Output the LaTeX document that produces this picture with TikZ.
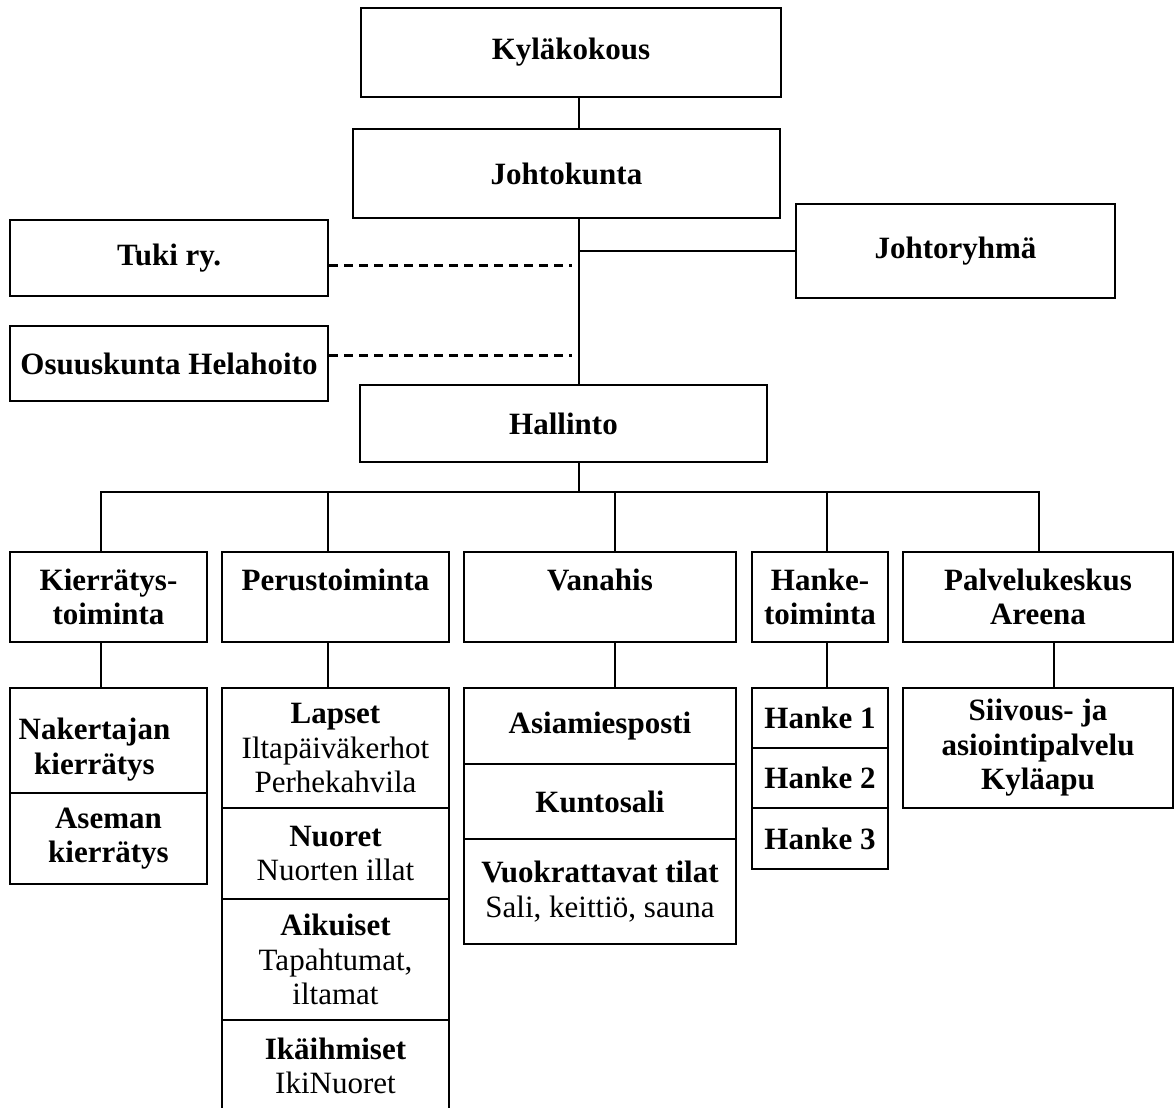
\documentclass[tikz,border=0pt]{standalone}
\usepackage{fontspec}
\setmainfont{Liberation Serif}
\newcommand\orgbox[7]{%
  \node[#6, minimum width={(#4-#2)*1pt}, minimum height={(#5-#3)*1pt}]
    (#1) at ({(#2+#4)/2},{(#3+#5)/2}) {#7};}
\begin{document}
\begin{tikzpicture}[x=1pt,y=-1pt,
  box/.style={draw, line width=2pt, inner sep=0pt, align=center,
    font=\fontsize{31}{34.5}\selectfont},
  boldbox/.style={box, font=\fontsize{31}{34.5}\selectfont\bfseries},
  conn/.style={line width=2pt, line cap=rect},
  dashl/.style={line width=3pt, dash pattern=on 9pt off 6pt}]
\fill[white] (0,0) rectangle (1175,1108);
\useasboundingbox (0,0) rectangle (1175,1108);
% top levels
\orgbox{kyl}{361}{8}{781}{97}{boldbox}{Kyläkokous}
\orgbox{joh}{353}{129}{780}{218}{boldbox}{Johtokunta}
\orgbox{jr}{796}{204}{1115}{298}{boldbox}{Johtoryhmä}
\orgbox{tuki}{10}{220}{328}{296}{boldbox}{Tuki ry.}
\orgbox{osu}{10}{326}{328}{401}{boldbox}{Osuuskunta Helahoito}
\orgbox{hal}{360}{385}{767}{462}{boldbox}{Hallinto}
% level 2
\orgbox{kier}{10}{552}{207}{642}{boldbox}{Kierrätys-\\toiminta}
\orgbox{per}{222}{552}{449}{642}{boldbox}{Perustoiminta\\\mbox{}}
\orgbox{van}{464}{552}{736}{642}{boldbox}{Vanahis\\\mbox{}}
\orgbox{han}{752}{552}{888}{642}{boldbox}{Hanke-\\toiminta}
\orgbox{pal}{903}{552}{1173}{642}{boldbox}{Palvelukeskus\\Areena}
% level 3
\orgbox{nak}{10}{688}{207}{793}{box, label={[align=center, font=\fontsize{31}{34.5}\selectfont\bfseries, xshift=-14pt, yshift=-9pt]center:Nakertajan\\kierrätys}}{}
\orgbox{ase}{10}{793}{207}{884}{boldbox}{Aseman\\kierrätys}
\orgbox{lap}{222}{688}{449}{808}{box}{\textbf{Lapset}\\Iltapäiväkerhot\\Perhekahvila}
\orgbox{nuo}{222}{808}{449}{899}{box}{\textbf{Nuoret}\\Nuorten illat}
\orgbox{aik}{222}{899}{449}{1020}{box}{\textbf{Aikuiset}\\Tapahtumat,\\iltamat}
\orgbox{iki}{222}{1020}{449}{1112}{box}{\textbf{Ikäihmiset}\\IkiNuoret}
\orgbox{asi}{464}{688}{736}{764}{boldbox}{Asiamiesposti}
\orgbox{kun}{464}{764}{736}{839}{boldbox}{Kuntosali}
\orgbox{vuo}{464}{839}{736}{944}{box}{\textbf{Vuokrattavat tilat}\\Sali, keittiö, sauna}
\orgbox{ha1}{752}{688}{888}{748}{boldbox}{Hanke 1}
\orgbox{ha2}{752}{748}{888}{808}{boldbox}{Hanke 2}
\orgbox{ha3}{752}{808}{888}{869}{boldbox}{Hanke 3}
\orgbox{sii}{903}{688}{1173}{808}{boldbox}{Siivous- ja\\asiointipalvelu\\Kyläapu}
% trunk
\coordinate (t) at (579,0);
\coordinate (de) at (572,0);
\draw[conn] (kyl.south -| t) -- (joh.north -| t);
\draw[conn] (joh.south -| t) -- (hal.north -| t);
\draw[conn] (jr.west) -- (jr.west -| t);
\draw[dashl] ([yshift=-7pt]tuki.east) -- ([yshift=-7pt]tuki.east -| de);
\draw[dashl] ([yshift=8.5pt]osu.east) -- ([yshift=8.5pt]osu.east -| de);
% bus
\coordinate (b1) at (101,492);
\coordinate (b2) at (328,492);
\coordinate (b3) at (615,492);
\coordinate (b4) at (827,492);
\coordinate (b5) at (1039,492);
\draw[conn] (b1) -- (b5);
\draw[conn] (hal.south -| t) -- (b3 -| t);
\draw[conn] (b1) -- (kier.north -| b1);
\draw[conn] (b2) -- (per.north -| b2);
\draw[conn] (b3) -- (van.north -| b3);
\draw[conn] (b4) -- (han.north -| b4);
\draw[conn] (b5) -- (pal.north -| b5);
% level 2 to 3
\coordinate (c1) at (101,0);
\coordinate (c2) at (328,0);
\coordinate (c3) at (615,0);
\coordinate (c4) at (827,0);
\coordinate (c5) at (1054,0);
\draw[conn] (kier.south -| c1) -- (nak.north -| c1);
\draw[conn] (per.south -| c2) -- (lap.north -| c2);
\draw[conn] (van.south -| c3) -- (asi.north -| c3);
\draw[conn] (han.south -| c4) -- (ha1.north -| c4);
\draw[conn] (pal.south -| c5) -- (sii.north -| c5);
\end{tikzpicture}
\end{document}
